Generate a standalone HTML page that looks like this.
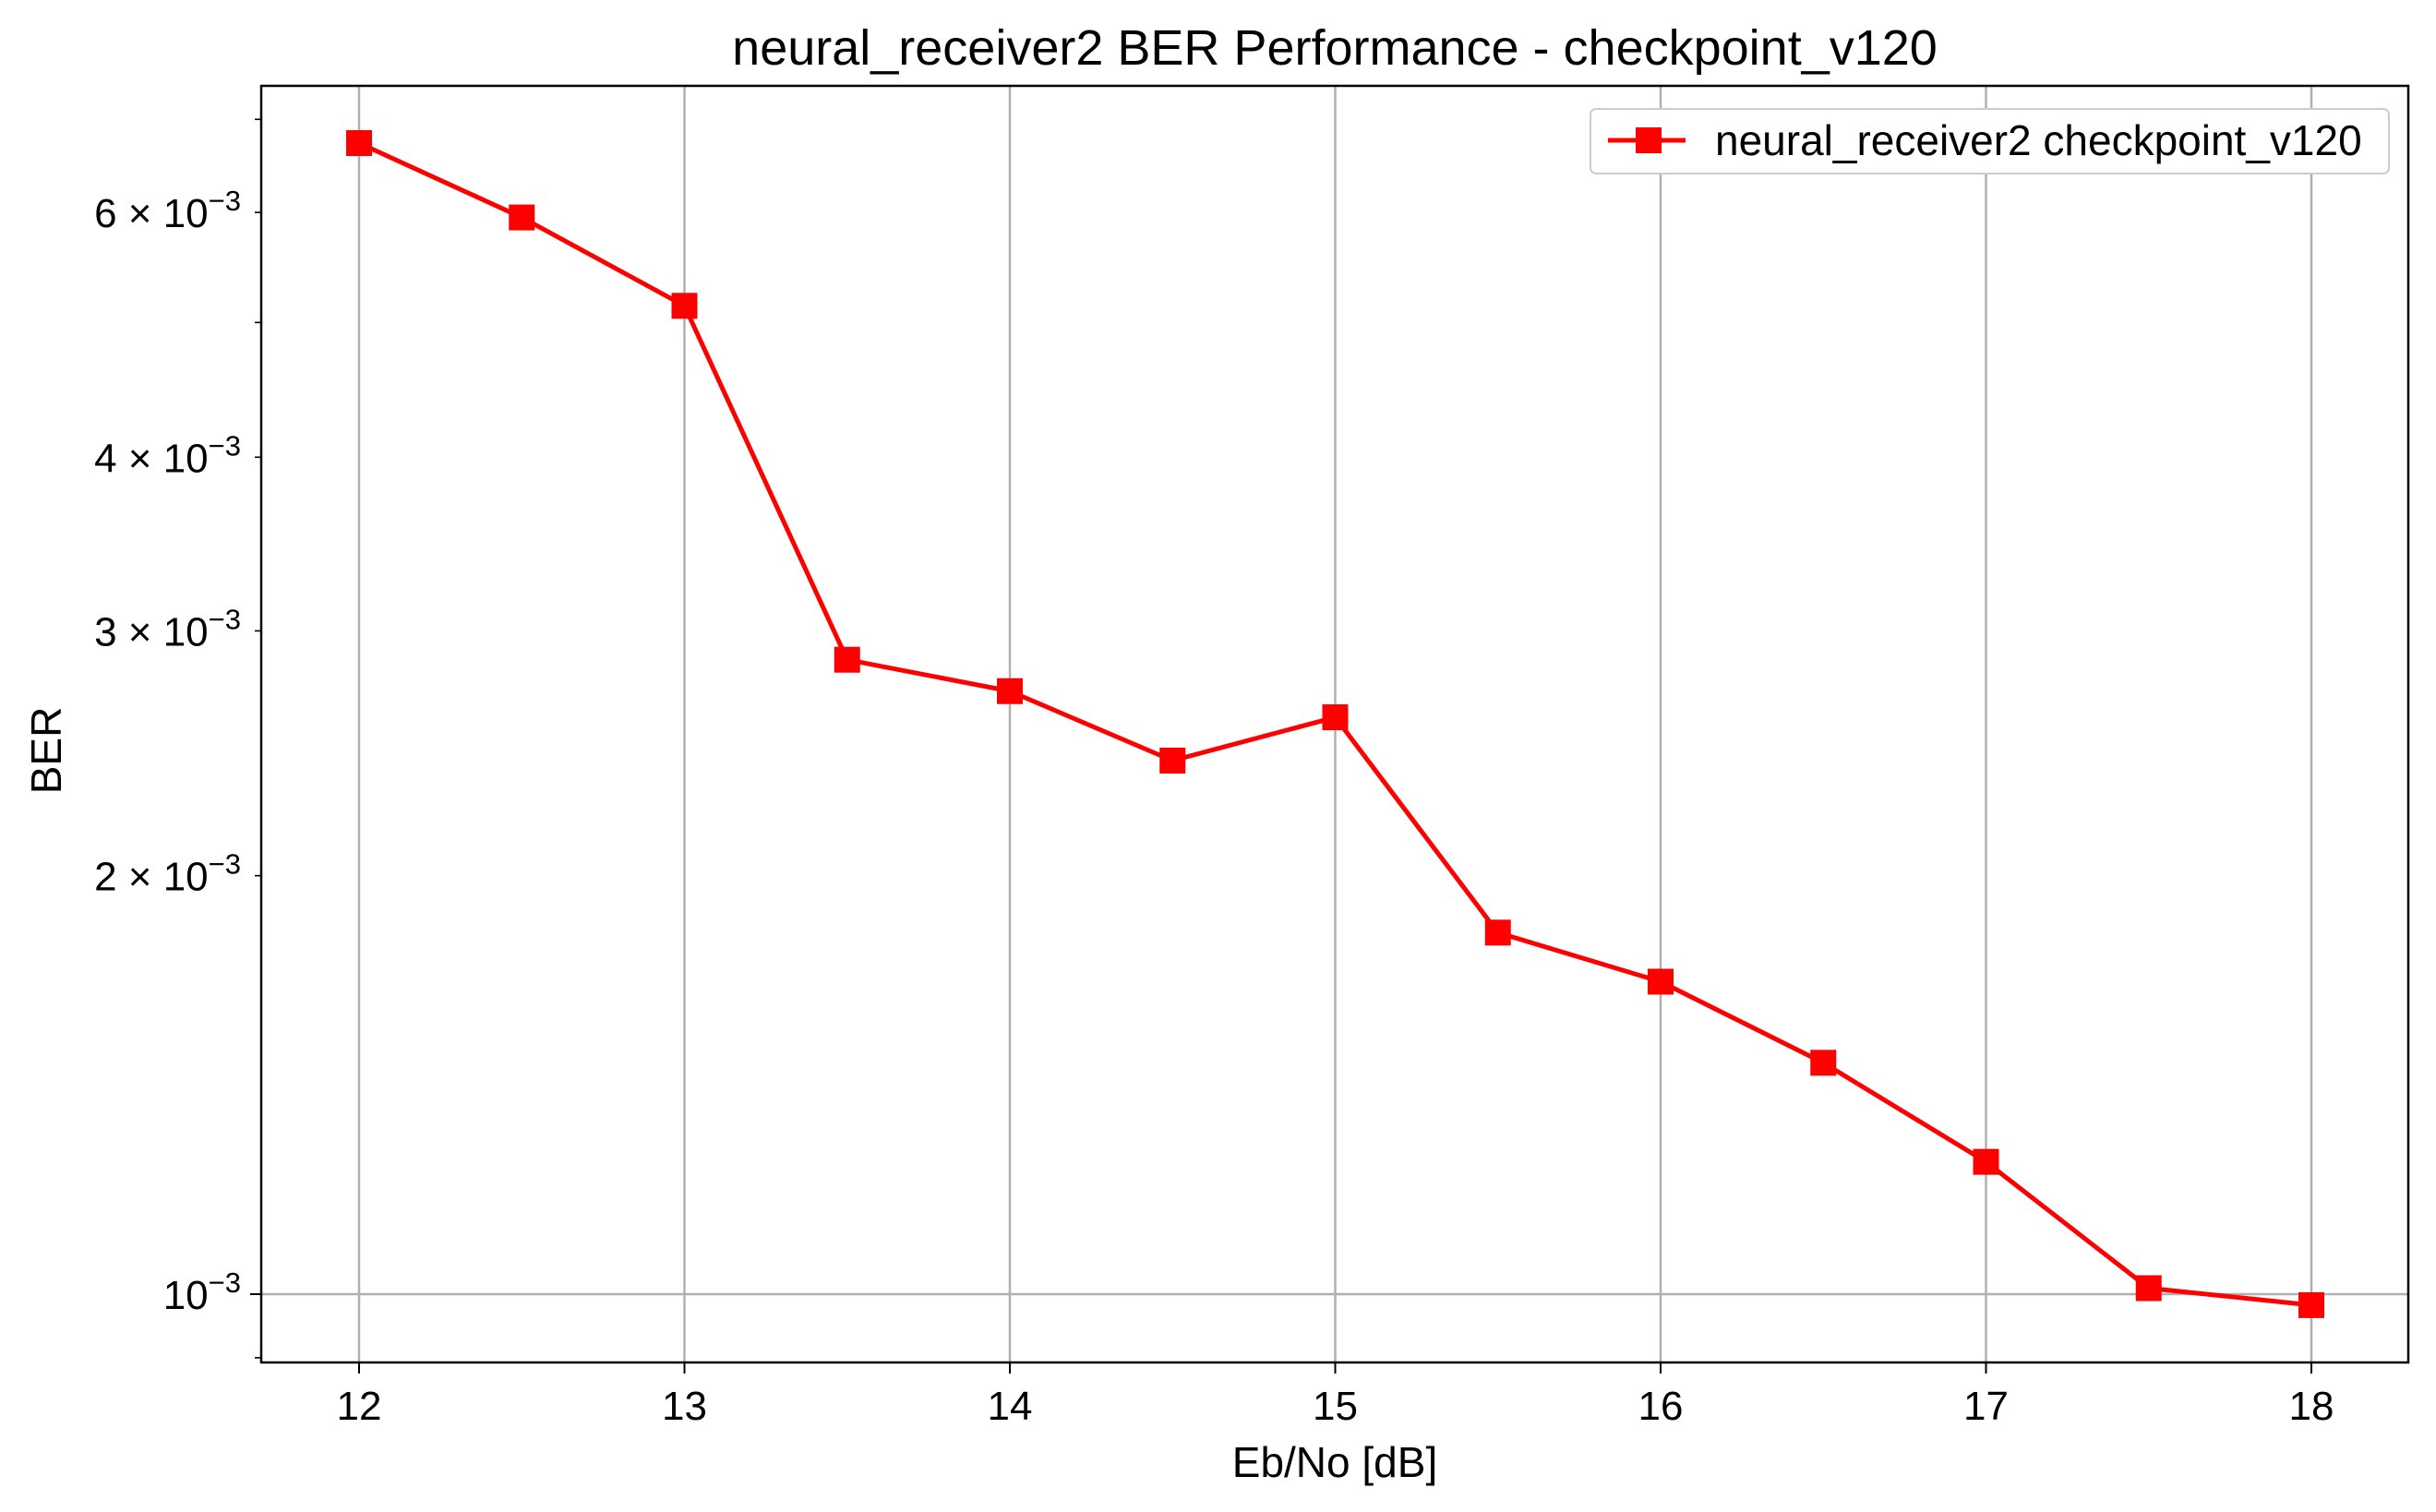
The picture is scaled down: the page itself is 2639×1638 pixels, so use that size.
<!DOCTYPE html>
<html><head><meta charset="utf-8"><style>html,body{margin:0;padding:0;background:#fff}svg{display:block}text{font-family:"Liberation Sans","DejaVu Sans",sans-serif;fill:#000}</style></head>
<body>
<svg id="chart" width="2639" height="1638" viewBox="0 0 2639 1638" xmlns="http://www.w3.org/2000/svg">
<text x="1446" y="70" font-size="54" text-anchor="middle">neural_receiver2 BER Performance - checkpoint_v120</text>
<g id="grid"></g><g id="axes"></g><g id="series"></g>
<text x="1446" y="1600" font-size="46" text-anchor="middle">Eb/No [dB]</text>
<text x="0" y="0" font-size="46" text-anchor="middle" transform="translate(66,813) rotate(-90)">BER</text>
<g>
<rect x="1723" y="118" width="865" height="70" rx="6" fill="#fff" stroke="#ccc" stroke-width="2"/>
<line x1="1742" y1="152" x2="1826" y2="152" stroke="#ff0000" stroke-width="5"/>
<rect x="1772" y="138" width="28" height="28" fill="#ff0000"/>
<text x="1858" y="168" font-size="46">neural_receiver2 checkpoint_v120</text>
</g>
</svg>
<script>
const xValues=[12,12.5,13,13.5,14,14.5,15,15.5,16,16.5,17,17.5,18];
const berValues=[6.73e-3,5.95e-3,5.14e-3,2.86e-3,2.715e-3,2.42e-3,2.60e-3,1.82e-3,1.678e-3,1.467e-3,1.245e-3,1.01e-3,0.982e-3];
const xTicks=[12,13,14,15,16,17,18];
const yMajorTicks=[1e-3];
const yLabeledMinor=[2e-3,3e-3,4e-3,6e-3];
const yLabeledMinorMant=["2","3","4","6"];
const yUnlabeledMinor=[9e-4,5e-3,7e-3];
const L=283,R=2609,T=93,B=1476;
const xs=v=>389+(v-12)*352.5;
const ys=v=>1402-Math.log10(v/1e-3)*1506;
const NS="http://www.w3.org/2000/svg";
function mk(p,tag,attrs){const e=document.createElementNS(NS,tag);for(const k in attrs)e.setAttribute(k,attrs[k]);p.appendChild(e);return e;}
const grid=document.getElementById('grid'),axes=document.getElementById('axes'),series=document.getElementById('series');
xTicks.forEach(t=>{const x=xs(t);
 const g=mk(grid,'line',{x1:x,x2:x,y1:T,y2:B,stroke:'#b0b0b0','stroke-width':2.5});
 
 
 mk(axes,'line',{x1:x,x2:x,y1:B,y2:B+12,stroke:'#000','stroke-width':2});
 const tx=mk(axes,'text',{x:x,y:B+62,'font-size':44,'text-anchor':'middle'});tx.textContent=t;
 
 
});
yMajorTicks.forEach(t=>{const y=ys(t);
 const g=mk(grid,'line',{x1:L,x2:R,y1:y,y2:y,stroke:'#b0b0b0','stroke-width':2.5});
 
 
 mk(axes,'line',{x1:L-12,x2:L,y1:y,y2:y,stroke:'#000','stroke-width':2});
 const tx=mk(axes,'text',{x:L-22,y:y+16,'font-size':44,'text-anchor':'end'});
 tx.innerHTML='10<tspan dy="-18" font-size="31">−3</tspan>';
 
 
});
yLabeledMinor.forEach((t,i)=>{const y=ys(t);
 mk(axes,'line',{x1:L-7,x2:L,y1:y,y2:y,stroke:'#000','stroke-width':1.6});
 const tx=mk(axes,'text',{x:L-22,y:y+16,'font-size':44,'text-anchor':'end'});
 tx.innerHTML=yLabeledMinorMant[i]+' × 10<tspan dy="-18" font-size="31">−3</tspan>';
 
 
});
yUnlabeledMinor.forEach(t=>{const y=ys(t);mk(axes,'line',{x1:L-7,x2:L,y1:y,y2:y,stroke:'#000','stroke-width':1.6});});
const frame=mk(axes,'rect',{x:L,y:T,width:R-L,height:B-T,fill:'none',stroke:'#000','stroke-width':2.5});


const pts=xValues.map((x,i)=>xs(x)+','+ys(berValues[i])).join(' ');
const line=mk(series,'polyline',{points:pts,fill:'none',stroke:'#ff0000','stroke-width':5,'stroke-linejoin':'round'});


xValues.forEach((x,i)=>{const m=mk(series,'rect',{x:xs(x)-14,y:ys(berValues[i])-14,width:28,height:28,fill:'#ff0000'});
 
 
});
</script>
</body></html>
